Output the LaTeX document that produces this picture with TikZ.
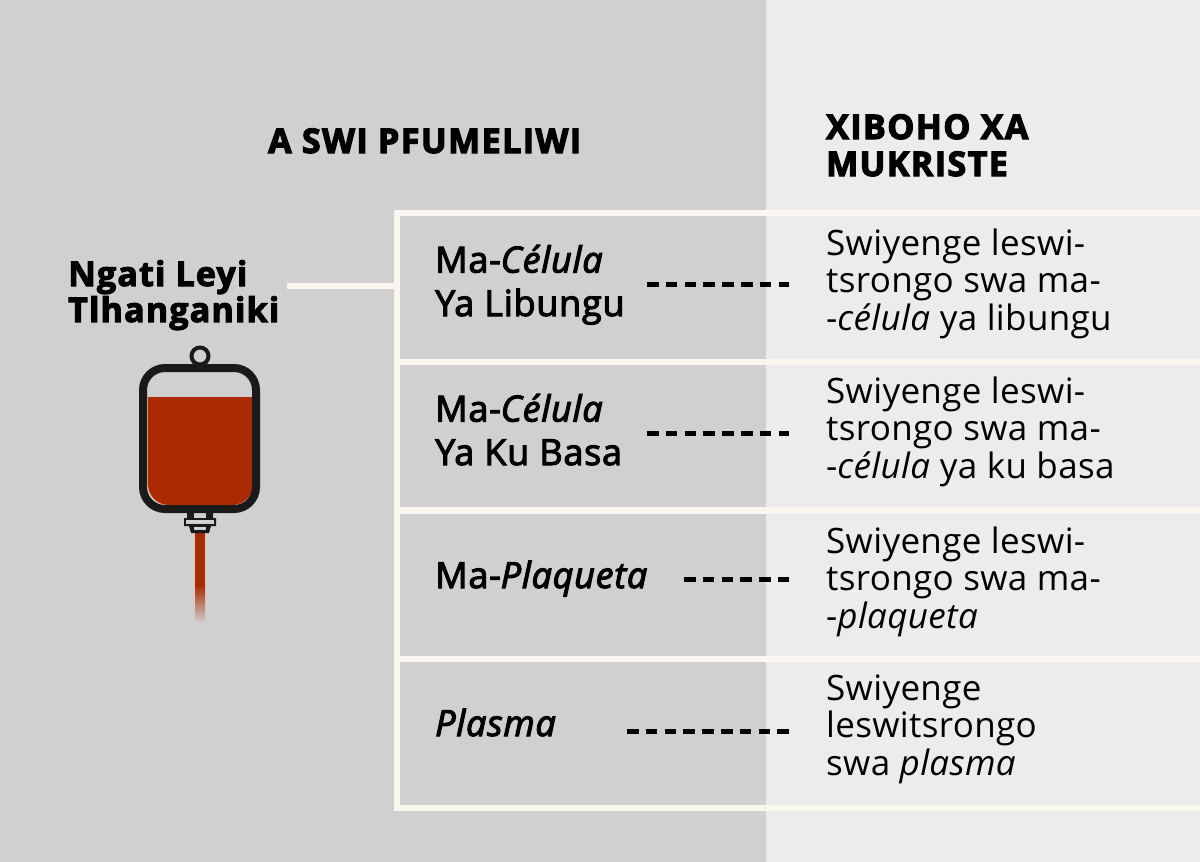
\documentclass[tikz,border=0pt]{standalone}
\usepackage{fontspec}
\setmainfont{Open Sans}
\newfontfamily\heavy[LetterSpace=4.3,BoldFeatures={FakeBold=3.5}]{Open Sans}
\newfontfamily\sideheavy[LetterSpace=3.5,BoldFeatures={FakeBold=3}]{Open Sans}
\newfontfamily\semi[LetterSpace=2,FakeBold=3]{Open Sans}
\newfontfamily\body[LetterSpace=1]{Open Sans}
\definecolor{leftbg}{HTML}{D0D0D0}
\definecolor{rightbg}{HTML}{ECECEC}
\definecolor{cream}{HTML}{FAF5EE}
\definecolor{blood}{HTML}{AB2A00}
\definecolor{ink}{HTML}{1A1A1A}
\tikzset{
  rowbox/.style={draw=cream,line width=6pt,minimum width=806pt,minimum height=149pt,anchor=north west,inner sep=0pt,outer sep=0pt},
  txt/.style={anchor=base west,inner sep=0pt,align=left,text=black},
  head/.style={txt,font=\heavy\bfseries\fontsize{34}{37}\selectfont},
  side/.style={txt,font=\sideheavy\bfseries\fontsize{34}{36}\selectfont},
  lab/.style={txt,font=\semi\fontsize{36}{43.5}\selectfont},
  ans/.style={txt,font=\body\fontsize{35}{37.5}\selectfont},
  lead/.style={cream,line width=6pt},
  dash link/.style={black,line width=4.5pt,dash pattern=on 11.5pt off 7.3pt},
}
\begin{document}
\begin{tikzpicture}[x=1pt,y=-1pt]
\useasboundingbox (0,0) rectangle (1200,862);
\fill[leftbg] (0,0) rectangle (766,862);
\fill[rightbg] (766,0) rectangle (1200,862);
% frame rows
\node[rowbox] (row1) at (397,212.5) {};
\node[rowbox] (row2) at (397,361.5) {};
\node[rowbox] (row3) at (397,510) {};
\node[rowbox] (row4) at (397,658.5) {};
% headings
\node[head] (h1) at (268,153) {A SWI PFUMELIWI};
\node[head] (h2) at (826,176) {XIBOHO XA\\MUKRISTE};
\node[side] (bagLabel) at (68,322) {Ngati Leyi\\Tlhanganiki};
\coordinate (leadStart) at (287,286);
\draw[lead] (leadStart) -- (leadStart -| row1.west);
% row labels
\node[lab] (l1) at (435,316) {Ma-\textit{Célula}\\Ya Libungu};
\node[lab] (l2) at (435,465) {Ma-\textit{Célula}\\Ya Ku Basa};
\node[lab] (l3) at (435,588) {Ma-\textit{Plaqueta}};
\node[lab] (l4) at (435,736) {\textit{Plasma}};
% answers
\node[ans] (a1) at (826,330) {Swiyenge leswi-\\tsrongo swa ma-\\-\textit{célula} ya libungu};
\node[ans] (a2) at (826,478) {Swiyenge leswi-\\tsrongo swa ma-\\-\textit{célula} ya ku basa};
\node[ans] (a3) at (826,628) {Swiyenge leswi-\\tsrongo swa ma-\\-\textit{plaqueta}};
\node[ans] (a4) at (826,775) {Swiyenge\\leswitsrongo\\swa \textit{plasma}};
% dashed links
\coordinate (d1a) at (647,284.5); \coordinate (d1b) at (789,284.5);
\coordinate (d2a) at (647,433.5); \coordinate (d2b) at (789,433.5);
\coordinate (d3a) at (684,579.5); \coordinate (d3b) at (789,579.5);
\coordinate (d4a) at (627,731.5); \coordinate (d4b) at (789,731.5);
\draw[dash link] (d1a) -- (d1b);
\draw[dash link] (d2a) -- (d2b);
\draw[dash link] (d3a) -- (d3b);
\draw[dash link] (d4a) -- (d4b);
% blood bag
\draw[ink,line width=4pt] (200,356) circle (8.5);
\fill[blood] (195,533) rectangle (205,585);
\shade[top color=blood,bottom color=leftbg] (195,585) rectangle (205,623);
\fill[ink] (187,513) -- (213,513) -- (213,518) -- (216,518) -- (216,526) -- (211,526) -- (209,533) -- (191,533) -- (189,526) -- (184,526) -- (184,518) -- (187,518) -- cycle;
\fill[leftbg] (194,513) rectangle (206,518);
\fill[leftbg] (186,520) rectangle (214,524);
\fill[leftbg] (194,527) rectangle (206,530);
\fill[cream!70!blood] (147,397) -- (254,397) -- (254,484) arc[start angle=0,end angle=90,radius=22] -- (169,506) arc[start angle=90,end angle=180,radius=22] -- cycle;
\fill[blood] (148,397) -- (253,397) -- (253,484) arc[start angle=0,end angle=90,radius=21] -- (169,505) arc[start angle=90,end angle=180,radius=21] -- cycle;
\draw[ink,line width=8pt,rounded corners=22pt] (143,368) rectangle (256,509);
\end{tikzpicture}
\end{document}
